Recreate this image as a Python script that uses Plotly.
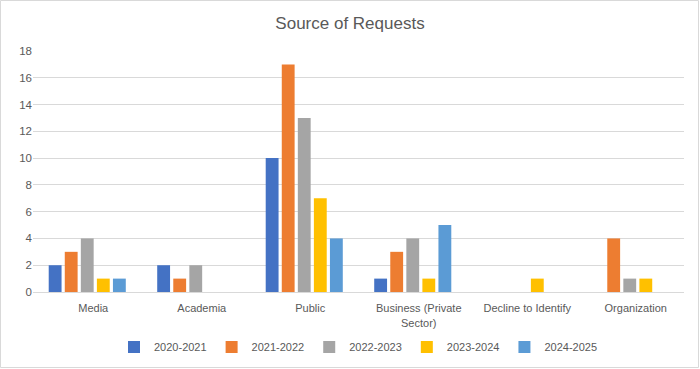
import plotly.graph_objects as go

categories = ["Media", "Academia", "Public", "Business (Private<br>Sector)", "Decline to Identify", "Organization"]
series_names = ["2020-2021", "2021-2022", "2022-2023", "2023-2024", "2024-2025"]
v2020 = [2, 2, 10, 1, 0, 0]
v2021 = [3, 1, 17, 3, 0, 4]
v2022 = [4, 2, 13, 4, 0, 1]
v2023 = [1, 0, 7, 1, 1, 1]
v2024 = [1, 0, 4, 5, 0, 0]
colors = ["#4472C4", "#ED7D31", "#A5A5A5", "#FFC000", "#5B9BD5"]
y_ticks = [0, 2, 4, 6, 8, 10, 12, 14, 16, 18]

values = [v2020, v2021, v2022, v2023, v2024]

fig = go.Figure()
for name, vals, c in zip(series_names, values, colors):
    fig.add_trace(go.Bar(name=name, x=categories, y=vals, marker=dict(color=c, line=dict(width=0))))

W, H = 700, 369
ml, mr, mt, mb = 33, 16, 51, 77
pw = W - ml - mr
ph = H - mt - mb

def px_x(p):
    return (p - ml) / pw

def px_y(p):
    return (H - mb - p) / ph

fig.update_layout(
    width=W, height=H,
    margin=dict(l=ml, r=mr, t=mt, b=mb, autoexpand=False),
    paper_bgcolor="white", plot_bgcolor="white",
    barmode="group", bargap=0.26, bargroupgap=0.2,
    font=dict(family="Liberation Sans, Arial, sans-serif", size=11.5, color="#595959"),
    title=dict(text="Source of Requests", x=0.5, xanchor="center", y=1 - 23 / H, yanchor="middle",
               font=dict(size=17, color="#595959")),
    showlegend=True,
    legend=dict(orientation="h", x=0.5, xanchor="center", y=px_y(347), yanchor="middle",
                font=dict(size=11, color="#595959"), itemwidth=30, traceorder="normal",
                bgcolor="rgba(0,0,0,0)"),
    xaxis=dict(showgrid=False, showline=True, linecolor="#D9D9D9", linewidth=1, ticks="",
               tickfont=dict(size=11, color="#595959"), fixedrange=True,
               ticklabelstandoff=6, ticklabelshift=6),
    yaxis=dict(range=[0, 18], tickvals=y_ticks, showgrid=True, gridcolor="#D9D9D9", gridwidth=1,
               zeroline=False, showline=False, ticks="", tickfont=dict(size=11.5, color="#595959")),
    shapes=[dict(type="rect", xref="paper", yref="paper",
                 x0=px_x(0.5), x1=px_x(698.5), y0=px_y(367.5), y1=px_y(0.5),
                 line=dict(color="#D9D9D9", width=1), layer="below")],
)

fig.write_html("out.html")
